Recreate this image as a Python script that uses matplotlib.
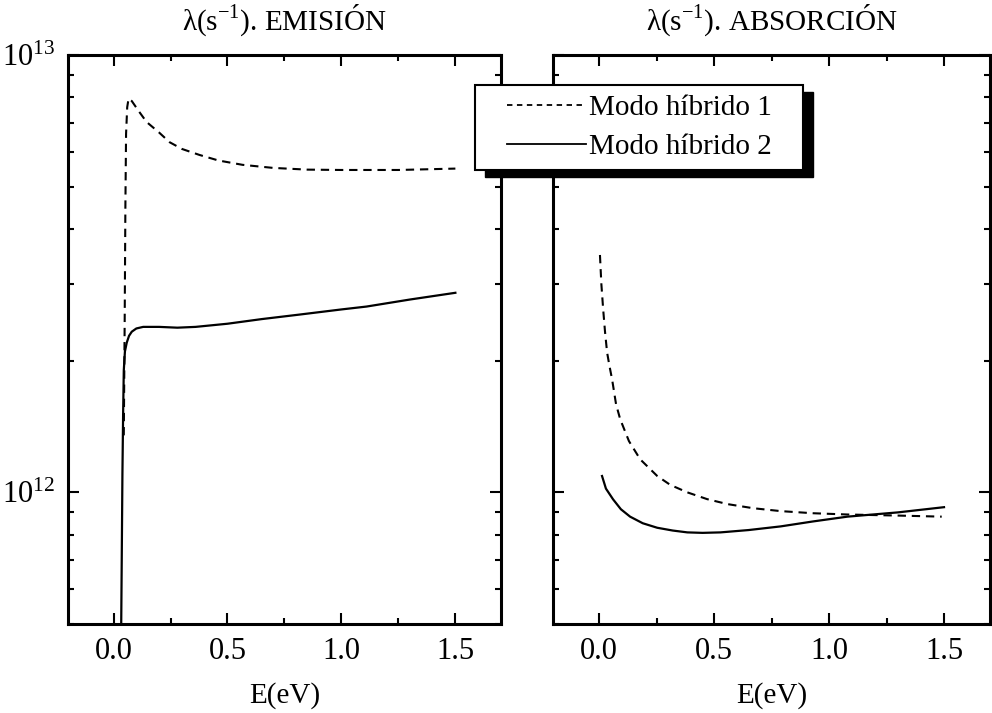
import math
import matplotlib
matplotlib.use('Agg')
import matplotlib.pyplot as plt
from matplotlib.ticker import LogLocator, FixedLocator, NullFormatter, FuncFormatter
from matplotlib.patches import Rectangle
from matplotlib.lines import Line2D

plt.rcParams['font.family'] = ['Liberation Serif', 'DejaVu Serif']
plt.rcParams['mathtext.fontset'] = 'custom'
plt.rcParams['mathtext.rm'] = 'Liberation Serif'

# Emision, modo hibrido 1 (dashed)
E1_em = [0.045, 0.049, 0.052, 0.055, 0.060, 0.066, 0.080, 0.110, 0.145, 0.200, 0.246, 0.300,
         0.377, 0.460, 0.566, 0.700, 0.850, 1.000, 1.250, 1.500]
L1_em = [1.35e12, 2.5e12, 4.5e12, 6.6e12, 7.6e12, 7.95e12, 7.85e12, 7.45e12, 7.03e12, 6.65e12,
         6.32e12, 6.10e12, 5.91e12, 5.74e12, 5.61e12, 5.52e12, 5.47e12, 5.46e12, 5.46e12, 5.50e12]

# Emision, modo hibrido 2 (solid)
E2_em = [0.033, 0.036, 0.039, 0.042, 0.045, 0.050, 0.058, 0.068, 0.080, 0.100, 0.130, 0.200,
         0.280, 0.360, 0.500, 0.650, 0.816, 1.000, 1.110, 1.300, 1.500]
L2_em = [4.5e11, 7.0e11, 1.1e12, 1.5e12, 1.9e12, 2.1e12, 2.2e12, 2.28e12, 2.33e12, 2.37e12, 2.39e12, 2.39e12,
         2.38e12, 2.39e12, 2.43e12, 2.49e12, 2.55e12, 2.62e12, 2.66e12, 2.76e12, 2.86e12]

# Absorcion, modo hibrido 1 (dashed)
E1_ab = [0.004, 0.010, 0.018, 0.026, 0.035, 0.045, 0.057, 0.074, 0.092, 0.130, 0.179, 0.253,
         0.310, 0.384, 0.470, 0.559, 0.670, 0.790, 0.930, 1.080, 1.300, 1.490]
L1_ab = [3.49e12, 3.0e12, 2.62e12, 2.33e12, 2.09e12, 1.95e12, 1.81e12, 1.59e12, 1.47e12, 1.31e12, 1.19e12, 1.09e12,
         1.04e12, 1.0e12, 0.965e12, 0.94e12, 0.92e12, 0.906e12, 0.896e12, 0.89e12, 0.885e12, 0.88e12]

# Absorcion, modo hibrido 2 (solid)
E2_ab = [0.013, 0.030, 0.061, 0.095, 0.135, 0.190, 0.253, 0.320, 0.384, 0.450, 0.528, 0.650,
         0.790, 0.930, 1.080, 1.300, 1.500]
L2_ab = [1.09e12, 1.02e12, 9.64e11, 9.15e11, 8.8e11, 8.5e11, 8.3e11, 8.18e11, 8.1e11, 8.08e11, 8.1e11, 8.2e11,
         8.36e11, 8.58e11, 8.8e11, 9.0e11, 9.25e11]

titles = [r'λ(s$^{\mathregular{-1}}$). EMISIÓN', r'λ(s$^{\mathregular{-1}}$). ABSORCIÓN']
labels = ['Modo híbrido 1', 'Modo híbrido 2']
xticks = [0.0, 0.5, 1.0, 1.5]

fig = plt.figure(figsize=(9.92, 7.13), dpi=100)
ax1 = fig.add_axes([0.0685, 0.1248, 0.4365, 0.798])
ax2 = fig.add_axes([0.5575, 0.1248, 0.4405, 0.798])

dash = (4, 2.8)
ax1.plot(E1_em, L1_em, color='k', lw=1.5, ls=(0, dash))
ax1.plot(E2_em, L2_em, color='k', lw=1.6)
ax2.plot(E1_ab, L1_ab, color='k', lw=1.5, ls=(0, dash))
ax2.plot(E2_ab, L2_ab, color='k', lw=1.6)

def sci(v, pos):
    e = int(round(math.log10(v)))
    return r'$\mathregular{10^{%d}}$' % e

for i, ax in enumerate([ax1, ax2]):
    ax.set_yscale('log')
    ax.set_ylim(5e11, 1e13)
    ax.set_xlim(-0.2, 1.7)
    ax.xaxis.set_major_locator(FixedLocator(xticks))
    ax.xaxis.set_minor_locator(FixedLocator([0.25, 0.75, 1.25]))
    ax.set_xticklabels(['%.1f' % t for t in xticks])
    ax.yaxis.set_major_locator(LogLocator(base=10, numticks=5))
    ax.yaxis.set_minor_locator(LogLocator(base=10, subs=range(2, 10), numticks=20))
    ax.yaxis.set_minor_formatter(NullFormatter())
    if i == 0:
        ax.yaxis.set_major_formatter(FuncFormatter(sci))
    else:
        ax.yaxis.set_major_formatter(NullFormatter())
    ax.tick_params(which='both', direction='in', top=True, right=True, width=1.5, labelsize=22)
    ax.tick_params(which='major', length=8, pad=9)
    ax.tick_params(which='minor', length=4.5)
    for s in ax.spines.values():
        s.set_linewidth(2.2)
    ax.set_title(titles[i], fontsize=21, pad=18)
    ax.set_xlabel('E(eV)', fontsize=21, labelpad=12)

# legend box with solid black shadow, spanning the gap between the panels
shadow = Rectangle((0.4889, 0.7518), 0.3307, 0.1192, transform=fig.transFigure,
                   facecolor='k', edgecolor='k', zorder=4)
box = Rectangle((0.4789, 0.7616), 0.3307, 0.1192, transform=fig.transFigure,
                facecolor='white', edgecolor='k', lw=1.5, zorder=4.5)
fig.patches.extend([shadow, box])

handles = [Line2D([], [], color='k', lw=1.3, ls=(0, (3, 2.5))),
           Line2D([], [], color='k', lw=1.3)]
fig.legend(handles, labels, loc='center', bbox_to_anchor=(0.6443, 0.8212), frameon=False,
           fontsize=21, handlelength=2.7, handletextpad=0.1, labelspacing=0.45, borderpad=0)

fig.savefig('out.png', dpi=100)
